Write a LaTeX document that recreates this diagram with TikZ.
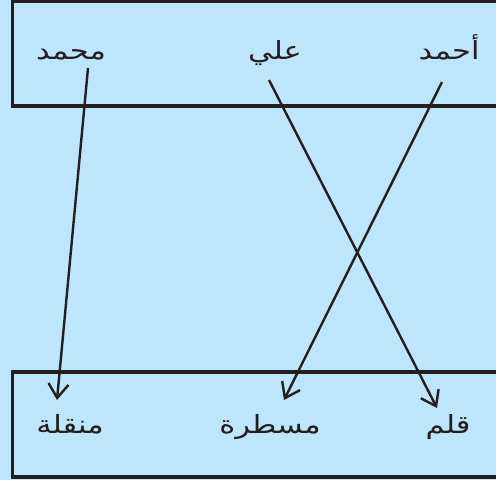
\documentclass[tikz,border=0pt]{standalone}
\usepackage{fontspec}
\newfontfamily\arabicfont[Script=Arabic,FakeStretch=1.22]{DejaVu Sans}
\TeXXeTstate=1
\usetikzlibrary{arrows.meta}
\definecolor{bgblue}{RGB}{189,230,250}
\definecolor{ink}{RGB}{35,31,32}
\tikzset{
  frame/.style={draw=ink, line width=3.2pt},
  word/.style={anchor=base, inner sep=0pt, text=ink, font=\arabicfont\fontsize{25}{30}\selectfont},
  link/.style={draw=ink, line width=2.4pt, -{Straight Barb[length=14pt,width=20pt,line width=2.4pt]}}
}
\begin{document}
\begin{tikzpicture}[x=1pt,y=-1pt]
\fill[bgblue] (0,0) rectangle (496,480);
\useasboundingbox (0,0) rectangle (496,480);
\draw[frame] (12.5,1.5) rectangle (505,106);
\draw[frame] (12.5,372) rectangle (505,477);
% top words
\node[word] (mohammed) at (71,59) {\beginR محمد\endR};
\node[word] (ali) at (275,59) {\beginR علي\endR};
\node[word] (ahmed) at (449,59) {\beginR أحمد\endR};
% bottom words
\node[word] (compass) at (70,433) {\beginR منقلة\endR};
\node[word] (ruler) at (270,433) {\beginR مسطرة\endR};
\node[word] (pen) at (448,433) {\beginR قلم\endR};
% connector ends
\coordinate (s1) at (88,68);
\coordinate (e1) at (57,400);
\coordinate (s2) at (269,80);
\coordinate (e2) at (437,408);
\coordinate (s3) at (442,82);
\coordinate (e3) at (284,400);
\draw[link] (s1) -- (e1);
\draw[link] (s2) -- (e2);
\draw[link] (s3) -- (e3);
\end{tikzpicture}
\end{document}
